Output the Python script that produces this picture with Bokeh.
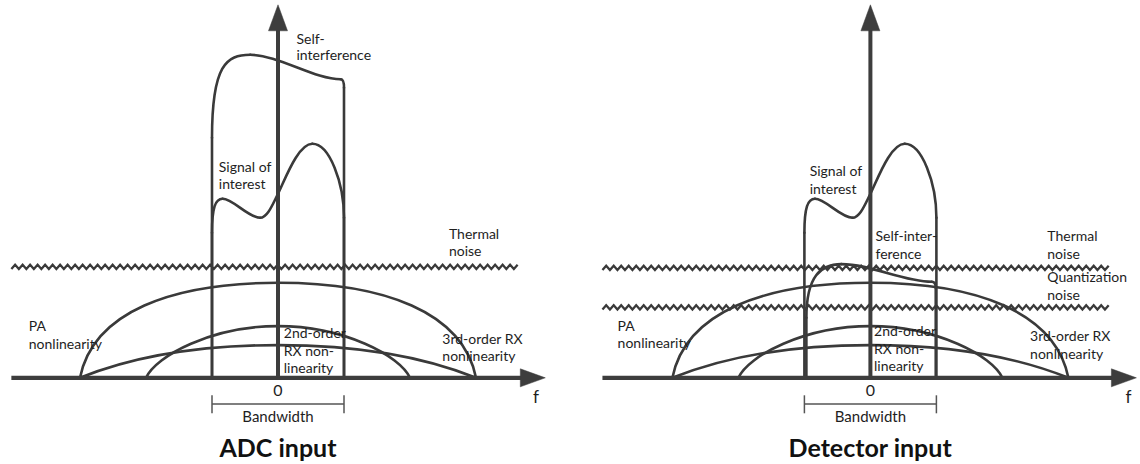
import numpy as np
from bokeh.plotting import figure
from bokeh.models import Range1d
from bokeh.layouts import row
from bokeh.embed import file_html
from bokeh.resources import INLINE
from bokeh.core.properties import value

# ---------------- data ----------------
# x: frequency in units of half the bandwidth (bandwidth edges at -1, +1)
# y: power level, arbitrary units
panel_titles = ["ADC input", "Detector input"]
bandwidth_edges = [-1.0, 1.0]
freq_axis_extent = [(-4.04, 4.05), (-4.06, 4.03)]
noise_extent = [(-4.04, 3.67), (-4.06, 3.66)]
thermal_noise = [11.1, 11.0]
quantization_noise = [None, 7.04]

# cubic Bezier paths: anchor, ctrl, ctrl, anchor, ...
pa_x = [-3.0, -2.8, -1.6, 0.0, 1.6, 2.8, 3.0]
pa_y = [0.0, 6.6, 9.5, 9.5, 9.5, 6.6, 0.0]
rx2_x = [-2.0, -1.85, -1.0, 0.0, 1.0, 1.85, 2.0]
rx2_y = [0.0, 2.2, 5.17, 5.17, 5.17, 2.2, 0.0]
rx3_x = [-3.0, -2.4, -1.5, 0.0, 1.5, 2.4, 3.0]
rx3_y = [0.0, 1.6, 3.27, 3.27, 3.27, 1.6, 0.0]

signal_x = [-1.0, -1.0, -1.0, -1.0, -1.0, -0.95, -0.84, -0.68, -0.45, -0.27,
            -0.16, -0.08, 0.0, 0.10, 0.30, 0.52, 0.78, 1.0, 1.0, 1.0, 1.0, 1.0]
signal_y = [0.0, 0.0, 14.5, 14.5, 17.0, 17.9, 17.9, 17.9, 16.0, 16.0,
            16.0, 17.36, 18.4, 19.7, 23.4, 23.4, 23.4, 19.5, 16.0, 16.0, 0.0, 0.0]

si_adc_x = [-1.0, -1.0, -1.0, -1.0, -1.0, -0.78, -0.42, 0.0, 0.55, 0.95,
            0.99, 1.0, 1.0, 1.0, 1.0, 1.0]
si_adc_y = [0.0, 0.0, 24.0, 24.0, 31.3, 32.3, 32.3, 32.3, 29.85, 29.85,
            29.85, 29.6, 29.0, 29.0, 0.0, 0.0]

si_det_x = [-0.97, -0.97, -0.97, -0.97, -0.97, -0.75, -0.44, 0.0, 0.5, 0.93,
            0.97, 0.99, 0.99, 0.99, 0.99, 0.99]
si_det_y = [0.0, 0.0, 6.0, 6.0, 10.2, 11.37, 11.37, 11.37, 9.6, 9.6,
            9.6, 9.4, 9.0, 9.0, 0.0, 0.0]

label_text_adc = ["Self-", "interference", "Signal of", "interest", "Thermal", "noise",
                  "PA", "nonlinearity", "2nd-order", "RX non-", "linearity",
                  "3rd-order RX", "nonlinearity"]
label_x_adc = [0.28, 0.28, -0.897, -0.897, 2.59, 2.59, -3.776, -3.776,
               0.088, 0.088, 0.088, 2.49, 2.49]
label_y_adc = [33.37, 31.7, 20.54, 18.84, 13.87, 12.17, 4.67, 2.87,
               3.94, 2.17, 0.44, 3.37, 1.6]

label_text_det = ["Signal of", "interest", "Self-inter-", "ference", "Thermal", "noise",
                  "Quantization", "noise", "PA", "nonlinearity", "2nd-order", "RX non-",
                  "linearity", "3rd-order RX", "nonlinearity"]
label_x_det = [-0.92, -0.92, 0.077, 0.077, 2.68, 2.68, 2.68, 2.68, -3.83, -3.83,
               0.055, 0.055, 0.055, 2.42, 2.42]
label_y_det = [20.1, 18.37, 13.6, 11.84, 13.6, 11.84, 9.5, 7.77, 4.6, 2.94,
               4.1, 2.34, 0.6, 3.6, 1.84]

# ---------------- layout / style ----------------
W, H = 570, 464
PXX, PXY = 66.0, 10.0          # pixels per data unit
BASE_LOCAL = 377.3              # baseline pixel row from top of figure
ORIGIN_LOCAL = [277.5, 299.9]   # vertical axis pixel column in each figure
AX_COL = "#3d3d3d"
LINE_COL = "#3a3a3a"
TXT_COL = "#1e1e1e"
FONT = "Lato"
Y_TIP = 37.3
BASELINE_FIX = 0.42             # renderer places alphabetic baseline ~0.42em low


def bez(xs, ys):
    return dict(x0=xs[0:-1:3], y0=ys[0:-1:3], cx0=xs[1::3], cy0=ys[1::3],
                cx1=xs[2::3], cy1=ys[2::3], x1=xs[3::3], y1=ys[3::3])


def zigzag(p, x0, x1, level):
    step = 3.75 / PXX
    n = int((x1 - x0) / step)
    k = np.arange(n + 1)
    xs = x0 + k * step
    ys = level + np.where(k % 2 == 0, -1.0, 1.0) * (2.1 / PXY)
    p.line(xs, ys, line_color=LINE_COL, line_width=2.3, line_join="miter")


def put_text(p, xs, ys, texts, size, align="left", bold=False, color=TXT_COL):
    shift = BASELINE_FIX * size / PXY
    p.text(x=list(xs), y=[y + shift for y in ys], text=list(texts),
           text_font=value(FONT), text_font_size=f"{size}px",
           text_font_style="bold" if bold else "normal",
           text_align=align, text_baseline="alphabetic", text_color=color)


def make_panel(i):
    ox = ORIGIN_LOCAL[i]
    p = figure(width=W, height=H,
               x_range=Range1d(-ox / PXX, (W - ox) / PXX),
               y_range=Range1d(-(H - BASE_LOCAL) / PXY, BASE_LOCAL / PXY),
               output_backend="svg", toolbar_location=None, min_border=0,
               x_axis_location=None, y_axis_location=None)
    p.grid.visible = False
    p.outline_line_color = None
    p.background_fill_color = "white"
    p.border_fill_color = "white"

    # noise floors
    zigzag(p, noise_extent[i][0], noise_extent[i][1], thermal_noise[i])
    if quantization_noise[i] is not None:
        zigzag(p, noise_extent[i][0], noise_extent[i][1], quantization_noise[i])

    # spectra
    curve_kw = dict(line_color=LINE_COL, line_width=2.6, line_cap="round")
    for xs, ys in [(pa_x, pa_y), (rx2_x, rx2_y), (rx3_x, rx3_y), (signal_x, signal_y)]:
        p.bezier(**bez(xs, ys), **curve_kw)
    si_x, si_y = (si_adc_x, si_adc_y) if i == 0 else (si_det_x, si_det_y)
    p.bezier(**bez(si_x, si_y), **curve_kw)

    # axes with arrow heads
    x_start, x_tip = freq_axis_extent[i]
    hx_len = 25 / PXX
    p.segment(x0=[x_start], y0=[0], x1=[x_tip - hx_len + 0.02], y1=[0],
              line_color=AX_COL, line_width=4.3)
    p.segment(x0=[0], y0=[0], x1=[0], y1=[Y_TIP - 2.5], line_color=AX_COL, line_width=4.0)
    p.patches(xs=[[x_tip - hx_len, x_tip, x_tip - hx_len], [-9.5 / PXX, 0, 9.5 / PXX]],
              ys=[[-0.9, 0, 0.9], [Y_TIP - 2.6, Y_TIP, Y_TIP - 2.6]],
              fill_color=AX_COL, line_color=AX_COL, line_width=0.5)

    # bandwidth bracket
    b0, b1 = bandwidth_edges
    p.segment(x0=[b0, b0, b1], y0=[-2.63, -1.75, -1.75], x1=[b1, b0, b1], y1=[-2.63, -3.55, -3.55],
              line_color="#555555", line_width=1.5)

    # labels
    if i == 0:
        lt, lx, ly = label_text_adc, label_x_adc, label_y_adc
    else:
        lt, lx, ly = label_text_det, label_x_det, label_y_det
    put_text(p, lx, ly, lt, 14)
    put_text(p, [0], [-1.93], ["0"], 16, align="center")
    put_text(p, [0], [-4.43], ["Bandwidth"], 15, align="center")
    put_text(p, [3.91], [-2.63], ["f"], 17, align="center")
    put_text(p, [0], [-7.94], [panel_titles[i]], 25, align="center", bold=True, color="#111111")
    return p


layout = row(make_panel(0), make_panel(1))
open("out.html", "w").write(file_html(layout, INLINE))
